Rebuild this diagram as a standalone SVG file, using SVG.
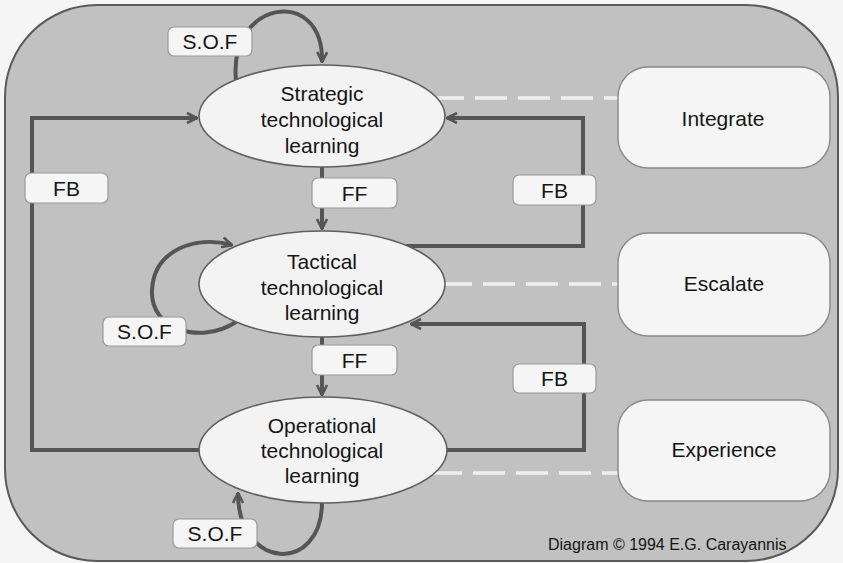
<svg xmlns="http://www.w3.org/2000/svg" width="843" height="563" viewBox="0 0 843 563">
  <style>
    .frame { fill: #c1c1c1; stroke: #5a5a5a; stroke-width: 2; }
    .oval { fill: #f3f3f3; stroke: #5f5f5f; stroke-width: 1.6; }
    .level { fill: #f5f5f5; stroke: #888; stroke-width: 1.4; }
    .tag { fill: #f5f5f5; stroke: #9a9a9a; stroke-width: 1.2; }
    .link { fill: none; stroke: #555; stroke-width: 4; stroke-linejoin: miter; }
    .dash { fill: none; stroke: #efefef; stroke-width: 3.5; stroke-dasharray: 32 11; }
    text { font-family: "Liberation Sans", Arial, sans-serif; fill: #151515; text-anchor: middle; }
    .big { font-size: 21px; }
    .note { font-size: 16px; text-anchor: start; }
  </style>
  <defs>
    <marker id="head" viewBox="0 0 12 12" refX="11" refY="6" markerWidth="12" markerHeight="12" markerUnits="userSpaceOnUse" orient="auto">
      <path d="M1,1 L11,6 L1,11" fill="none" stroke="#555" stroke-width="2.6" stroke-linejoin="miter"/>
    </marker>
  </defs>

  <rect x="0" y="0" width="843" height="563" fill="#f5f5f5"/>
  <rect class="frame" x="5" y="5" width="833" height="556" rx="92" ry="92"/>

  <!-- dashed ties between learning levels and their actions -->
  <g id="ties">
    <line class="dash" x1="432" y1="98" x2="618" y2="98"/>
    <line class="dash" x1="440" y1="284" x2="618" y2="284"/>
    <line class="dash" x1="430" y1="473" x2="618" y2="473"/>
  </g>

  <g id="connectors">
    <!-- feedback from operational to strategic -->
    <polyline class="link" points="200,450 32,450 32,118 197,118" marker-end="url(#head)"/>
    <!-- feedback from tactical to strategic -->
    <polyline class="link" points="406,246 583,246 583,118 447,118" marker-end="url(#head)"/>
    <!-- feedback from operational to tactical -->
    <polyline class="link" points="446,450 584,450 584,324 411,324" marker-end="url(#head)"/>
    <!-- feed-forward links -->
    <line class="link" x1="322" y1="166" x2="322" y2="229" marker-end="url(#head)"/>
    <line class="link" x1="322" y1="336" x2="322" y2="395" marker-end="url(#head)"/>
    <!-- self-organising feedback loops -->
    <path class="link" d="M236,80 C228,0 324,-15 322,62" marker-end="url(#head)"/>
    <path class="link" d="M236,322 C200,345 150,330 152,290 C154,250 195,235 232,245" marker-end="url(#head)"/>
    <path class="link" d="M322,502 C322,575 238,570 238,493" marker-end="url(#head)"/>

    <g id="tags">
      <rect class="tag" x="168" y="27" width="84" height="29" rx="6"/>
      <text class="big" x="210" y="48.5">S.O.F</text>
      <rect class="tag" x="25" y="173" width="83" height="30" rx="6"/>
      <text class="big" x="66.5" y="195.5">FB</text>
      <rect class="tag" x="312" y="178" width="85" height="30" rx="6"/>
      <text class="big" x="354.5" y="200.5">FF</text>
      <rect class="tag" x="513" y="175" width="83" height="30" rx="6"/>
      <text class="big" x="554.5" y="197.5">FB</text>
      <rect class="tag" x="103" y="317" width="83" height="29" rx="6"/>
      <text class="big" x="144.5" y="339">S.O.F</text>
      <rect class="tag" x="312" y="345" width="85" height="30" rx="6"/>
      <text class="big" x="354.5" y="367.5">FF</text>
      <rect class="tag" x="513" y="364" width="83" height="29" rx="6"/>
      <text class="big" x="554.5" y="386">FB</text>
      <rect class="tag" x="173" y="519" width="84" height="29" rx="6"/>
      <text class="big" x="215" y="541">S.O.F</text>
    </g>
  </g>

  <g id="strategic">
    <ellipse class="oval" cx="322" cy="116" rx="123" ry="51"/>
    <text class="big" x="322" y="101">Strategic</text>
    <text class="big" x="322" y="127">technological</text>
    <text class="big" x="322" y="153">learning</text>
  </g>
  <g id="tactical">
    <ellipse class="oval" cx="322" cy="284" rx="123" ry="53"/>
    <text class="big" x="322" y="269">Tactical</text>
    <text class="big" x="322" y="295">technological</text>
    <text class="big" x="322" y="320">learning</text>
  </g>
  <g id="operational">
    <ellipse class="oval" cx="323" cy="450" rx="124" ry="53"/>
    <text class="big" x="322" y="433">Operational</text>
    <text class="big" x="322" y="458">technological</text>
    <text class="big" x="322" y="483">learning</text>
  </g>

  <g id="integrate">
    <rect class="level" x="618" y="67" width="212" height="101" rx="30"/>
    <text class="big" x="723" y="126">Integrate</text>
  </g>
  <g id="escalate">
    <rect class="level" x="618" y="233" width="212" height="103" rx="30"/>
    <text class="big" x="724" y="291">Escalate</text>
  </g>
  <g id="experience">
    <rect class="level" x="618" y="400" width="212" height="101" rx="30"/>
    <text class="big" x="724" y="457">Experience</text>
  </g>

  <text class="note" x="548" y="550">Diagram © 1994 E.G. Carayannis</text>
</svg>
